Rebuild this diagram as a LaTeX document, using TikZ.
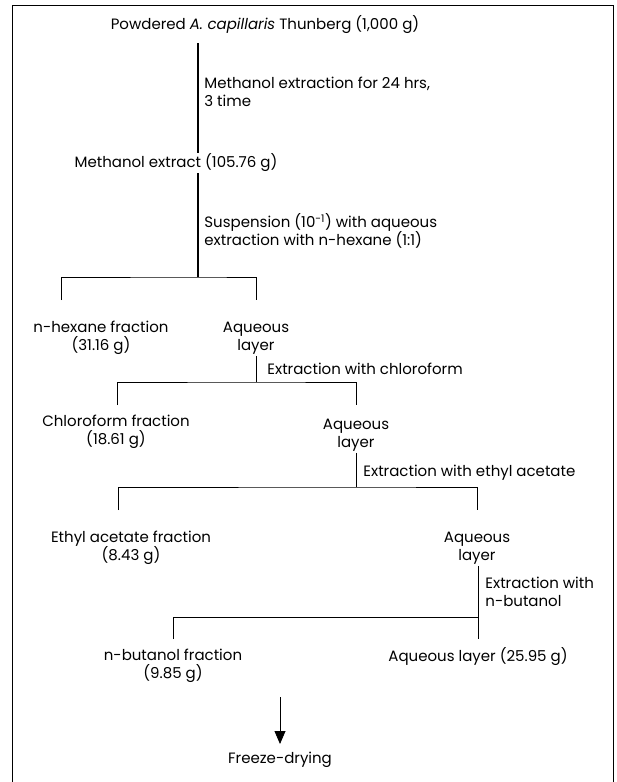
\documentclass[tikz,border=0pt]{standalone}
\usepackage{fontspec}
\setmainfont{Poppins}
\usetikzlibrary{calc,arrows.meta}
\tikzset{
    txt/.style={font=\fontsize{15}{18.5}\selectfont, align=center, inner sep=1pt},
    extlbl/.style={txt, anchor=west, align=left},
    stem/.style={line width=1.1pt},
  }

\begin{document}
\begin{tikzpicture}[x=1pt,y=-1pt,line width=0.8pt]
				  \useasboundingbox (0,0) rectangle (616,782);
				  %FRAME
				  \draw[line width=1pt] (12,782) -- (12,5) -- (613,5) -- (613,782);

				  %METHANOL
				  \node[txt](pow) at (265,25) {Powdered \textit{A. capillaris} Thunberg (1,000 g)};
				  \coordinate (j1) at (198,277);
				  \draw[stem,shorten <=8pt] (pow.south -| j1) -- (j1);
				  \node[extlbl](ex1) at (203,92) {Methanol extraction for 24 hrs,\\3 time};
				  \node[txt,fill=white](mex) at (176,163) {Methanol extract (105.76 g)};
				  \node[extlbl](ex2) at (203,231) {Suspension (10\textsuperscript{-1}) with aqueous\\extraction with n-hexane (1:1)};

				  %N-HEXANE
				  \coordinate (a1) at (61,277);
				  \coordinate (b1) at (256,277);
				  \draw (a1) ++(0,23) -- (a1) -- (j1) -- (b1) -- ++(0,23);
				  \node[txt](hex) at (101,338) {n-hexane fraction\\(31.16 g)};
				  \node[txt](aq1) at (256,338) {Aqueous\\layer};

				  %CHLOROFORM
				  \coordinate (j2) at (256,382);
				  \draw (aq1.south) -- (j2);
				  \node[extlbl](ex3) at (266,369) {Extraction with chloroform};
				  \coordinate (a2) at (117,382);
				  \coordinate (b2) at (356,382);
				  \draw (a2) ++(0,23) -- (a2) -- (j2) -- (b2) -- ++(0,23);
				  \node[txt](chl) at (116,432) {Chloroform fraction\\(18.61 g)};
				  \node[txt](aq2) at (356,435) {Aqueous\\layer};

				  %ETHYL ACETATE
				  \coordinate (j3) at (356,487);
				  \draw (aq2.south) -- (j3);
				  \node[extlbl](ex4) at (362,473) {Extraction with ethyl acetate};
				  \coordinate (a3) at (118,487);
				  \coordinate (b3) at (477,487);
				  \draw (a3) ++(0,23) -- (a3) -- (j3) -- (b3) -- ++(0,23);
				  \node[txt](eth) at (131,548) {Ethyl acetate fraction\\(8.43 g)};
				  \node[txt](aq3) at (477,548) {Aqueous\\layer};

				  %N-BUTANOL
				  \coordinate (j4) at (478,617);
				  \draw (aq3.south -| j4) -- (j4);
				  \node[extlbl](ex5) at (484,592) {Extraction with\\n-butanol};
				  \coordinate (a4) at (173,617);
				  \draw (a4) ++(0,22) -- (a4) -- (j4) -- ++(0,22);
				  \node[txt](but) at (173,666) {n-butanol fraction\\(9.85 g)};
				  \node[txt](aq4) at (478,657) {Aqueous layer (25.95 g)};

				  %FREEZE-DRYING
				  \node[txt](frz) at (280,760) {Freeze-drying};
				  \coordinate (t1) at (280,697);
				  \coordinate (t2) at (280,744);
				  \draw[-{Triangle[width=11pt,length=13pt]}] (t1) -- (t2);
				  \end{tikzpicture}
\end{document}
